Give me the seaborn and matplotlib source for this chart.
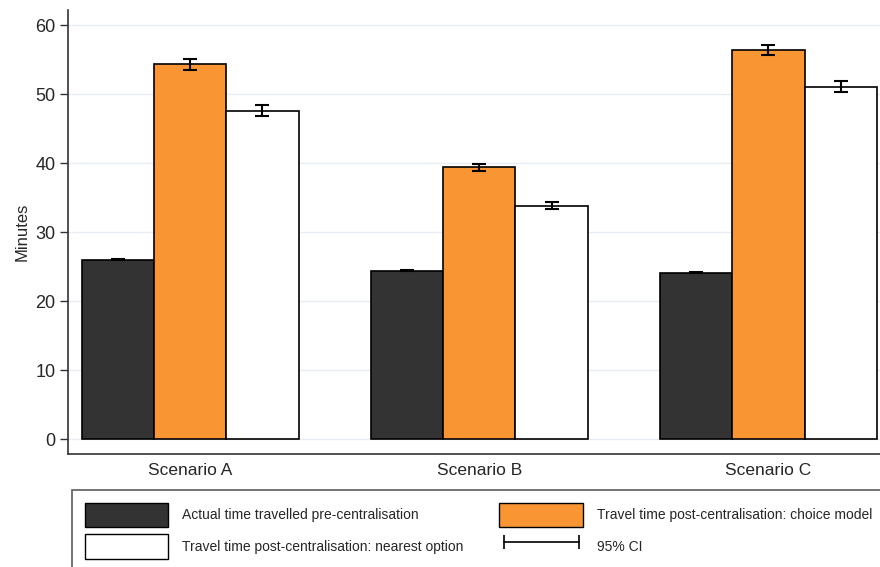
import numpy as np
import pandas as pd
import matplotlib
matplotlib.use('Agg')
import matplotlib.pyplot as plt
from matplotlib.patches import Patch
from matplotlib.lines import Line2D
import seaborn as sns

sns.set_style('white')
plt.rcParams['font.family'] = ['Liberation Sans', 'DejaVu Sans']

scenarios = ['Scenario A', 'Scenario B', 'Scenario C']
series = ['Actual time travelled pre-centralisation',
          'Travel time post-centralisation: choice model',
          'Travel time post-centralisation: nearest option']
actual = [26.0, 24.4, 24.1]
choice = [54.3, 39.4, 56.4]
nearest = [47.6, 33.8, 51.1]
actual_ci = [0.05, 0.05, 0.05]
choice_ci = [0.8, 0.5, 0.7]
nearest_ci = [0.8, 0.5, 0.8]

colors = ['#333333', '#f99633', '#ffffff']

rows = []
for s, vals, cis in zip(series, [actual, choice, nearest], [actual_ci, choice_ci, nearest_ci]):
    for sc, v, c in zip(scenarios, vals, cis):
        rows.append({'scenario': sc, 'series': s, 'value': v, 'ci': c})
df = pd.DataFrame(rows)

fig = plt.figure(figsize=(8.8, 5.67), dpi=100)
ax = fig.add_axes([0.0773, 0.1993, 0.93, 0.7831])

sns.barplot(data=df, x='scenario', y='value', hue='series', hue_order=series,
            order=scenarios, palette=colors, width=0.75, errorbar=None,
            edgecolor='black', linewidth=1.2, saturation=1, ax=ax, legend=False, zorder=2)

for cont, s in zip(ax.containers, series):
    sub = df[df['series'] == s].set_index('scenario').loc[scenarios]
    xs = [p.get_x() + p.get_width() / 2 for p in cont.patches]
    ax.errorbar(xs, sub['value'], yerr=sub['ci'], fmt='none', ecolor='black',
                elinewidth=1.5, capsize=5, capthick=1.5, zorder=3)

ax.set_ylim(-2.17, 62.2)
ax.set_xlim(-0.422, 2.408)
ax.set_yticks([0, 10, 20, 30, 40, 50, 60])
ax.yaxis.grid(True, color='#e8edf3', linewidth=1, zorder=0)
ax.set_axisbelow(True)
sns.despine(ax=ax, top=True, right=True)
for sp in ['left', 'bottom']:
    ax.spines[sp].set_color('#333333')
    ax.spines[sp].set_linewidth(1.2)
ax.tick_params(axis='y', left=True, length=6, width=1, color='#333333', labelsize=13, pad=3)
ax.tick_params(axis='x', bottom=False, labelsize=12.5, pad=3)
ax.set_xlabel('')
ax.set_ylabel('Minutes', fontsize=12)

handles = [Patch(facecolor=colors[0], edgecolor='black', linewidth=1),
           Patch(facecolor=colors[2], edgecolor='black', linewidth=1),
           Patch(facecolor=colors[1], edgecolor='black', linewidth=1),
           Line2D([], [], color='black', linewidth=1.2, marker='|', markersize=10, markeredgewidth=1.2)]
labels = [series[0], series[2], series[1], '95% CI']
leg = fig.legend(handles, labels, loc='upper left', ncol=2,
                 bbox_to_anchor=(0.082, 1 - 490 / 567), fontsize=10,
                 frameon=True, fancybox=False, edgecolor='#333333',
                 handlelength=6.0, handleheight=2.35, handletextpad=1.0,
                 columnspacing=2.6, numpoints=2, borderpad=0.9, labelspacing=0.5,
                 borderaxespad=0)
leg.get_frame().set_linewidth(1.2)

fig.savefig('out.png', dpi=100)
